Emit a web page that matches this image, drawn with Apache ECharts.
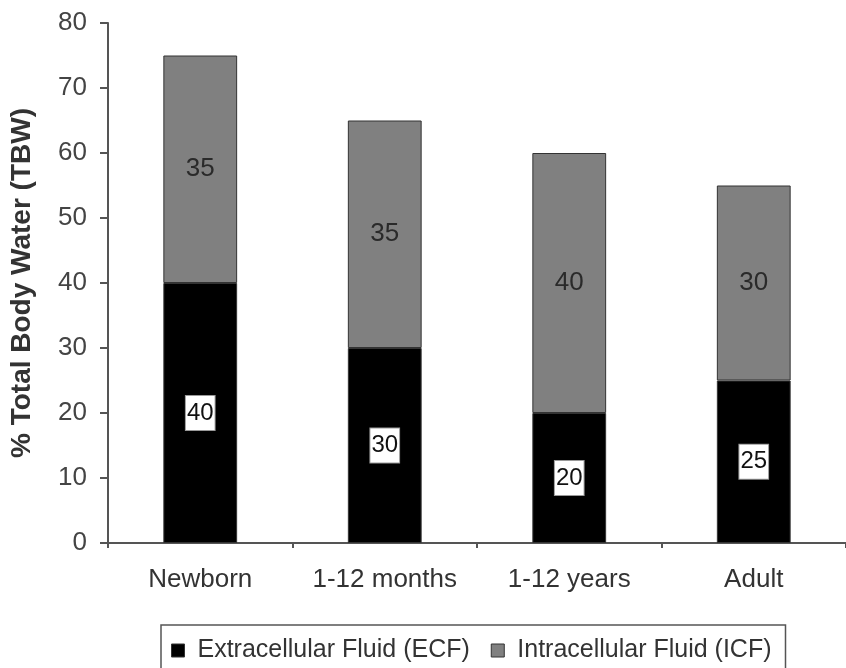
<!DOCTYPE html>
<html>
<head>
<meta charset="utf-8">
<script src="https://cdn.jsdelivr.net/npm/echarts@6/dist/echarts.min.js"></script>
<style>html,body{margin:0;padding:0;background:#fff;}#c{width:846px;height:668px;}</style>
</head>
<body>
<div id="c"></div>
<script>
const categories = ['Newborn', '1-12 months', '1-12 years', 'Adult'];
const ecfValues = [40, 30, 20, 25];
const icfValues = [35, 35, 40, 30];
const yTicks = [0, 10, 20, 30, 40, 50, 60, 70, 80];

const FONT = '"Liberation Sans", Arial, sans-serif';
const chart = echarts.init(document.getElementById('c'), null, {renderer: 'canvas'});
chart.setOption({
  animation: false,
  backgroundColor: '#fff',
  grid: {left: 108, right: -6, top: 23, bottom: 125, containLabel: false},
  legend: {
    left: 161, top: 625,
    padding: [13, 14, 40, 10],
    borderColor: '#555', borderWidth: 1.5,
    itemGap: 21, itemWidth: 13, itemHeight: 13,
    icon: 'rect',
    itemStyle: {borderColor: '#333', borderWidth: 1},
    textStyle: {fontFamily: FONT, fontSize: 25, color: '#333', padding: [0, 0, 0, 8]},
    data: ['Extracellular Fluid (ECF)', 'Intracellular Fluid (ICF)']
  },
  xAxis: {
    type: 'category', data: categories,
    axisLine: {lineStyle: {color: '#555', width: 2}},
    axisTick: {show: true, interval: 0, length: 5, lineStyle: {color: '#555', width: 2}},
    axisLabel: {interval: 0, hideOverlap: false, fontFamily: FONT, fontSize: 26, color: '#333', margin: 24}
  },
  yAxis: {
    type: 'value', min: yTicks[0], max: yTicks[yTicks.length - 1], interval: 10,
    name: '% Total Body Water (TBW)', nameLocation: 'middle', nameGap: 72,
    nameTextStyle: {fontFamily: FONT, fontSize: 28, fontWeight: 'bold', color: '#333'},
    splitLine: {show: false},
    axisLine: {show: true, lineStyle: {color: '#555', width: 2}},
    axisTick: {show: true, length: 8, lineStyle: {color: '#555', width: 2}},
    axisLabel: {fontFamily: FONT, fontSize: 26, color: '#444', margin: 21}
  },
  series: [
    {
      name: 'Extracellular Fluid (ECF)', type: 'bar', stack: 'tbw', data: ecfValues,
      barWidth: '40%',
      itemStyle: {color: '#000', borderColor: '#333', borderWidth: 1},
      label: {show: true, position: 'inside', fontFamily: FONT, fontSize: 24, color: '#111',
        backgroundColor: '#fff', padding: [6, 1, 4, 1], borderColor: '#999', borderWidth: 1}
    },
    {
      name: 'Intracellular Fluid (ICF)', type: 'bar', stack: 'tbw', data: icfValues,
      barWidth: '40%',
      itemStyle: {color: '#808080', borderColor: '#333', borderWidth: 1},
      label: {show: true, position: 'inside', fontFamily: FONT, fontSize: 26, color: '#2a2a2a'}
    }
  ]
});
</script>
</body>
</html>
